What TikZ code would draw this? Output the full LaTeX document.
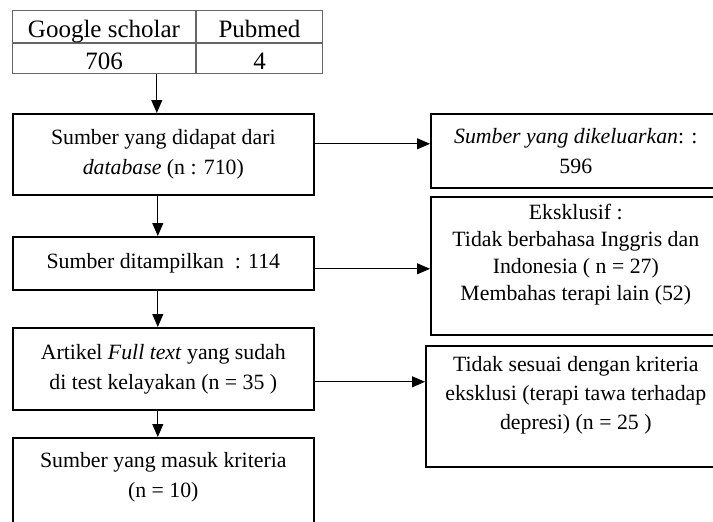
\documentclass[tikz,border=0pt]{standalone}
\usepackage{fontspec}
\setmainfont{Liberation Serif}
\usetikzlibrary{arrows.meta}
\tikzset{
  cell/.style={draw=black!60, line width=1pt, inner sep=0pt, anchor=north west, text height=21pt, text depth=0pt, font=\fontsize{25}{30}\selectfont},
  stage/.style={draw, line width=1.6pt, inner sep=0pt, anchor=north west, align=center, minimum width=301pt, font=\fontsize{21.8}{30}\selectfont},
  side/.style={stage, minimum width=290pt},
  flow/.style={-{Triangle[length=13pt,width=11pt]}, line width=0.9pt}
}
\begin{document}
\begin{tikzpicture}[x=1pt,y=-1pt]
\fill[white] (0,0) rectangle (713,522);
\clip (0,0) rectangle (713,522);
\node[cell, minimum width=183pt, minimum height=32pt] (gs) at (12,10) {Google scholar};
\node[cell, minimum width=126pt, minimum height=32pt] (pm) at (gs.north east) {Pubmed};
\node[cell, minimum width=183pt, minimum height=30pt] (n706) at (gs.south west) {706};
\node[cell, minimum width=126pt, minimum height=30pt] (n4) at (pm.south west) {4};
\node[stage, minimum height=81pt] (box1) at (12,113) {Sumber yang didapat dari\\ \textit{database} (n : 710)};
\node[stage, minimum height=53pt] (box2) at (12,236) {Sumber ditampilkan\ \ : 114};
\node[stage, minimum height=82pt] (box3) at (12,327) {Artikel \textit{Full text} yang sudah\\ di test kelayakan (n = 35 )};
\node[stage, inner ysep=15pt, text depth=70pt] (box4) at (12,437) {Sumber yang masuk kriteria\\ (n = 10)};
\node[side, minimum height=74pt] (side1) at (430,113) {\textit{Sumber yang dikeluarkan}: :\\ 596};
\node[side, minimum height=138pt, text depth=27pt, font=\fontsize{21.8}{27}\selectfont] (side2) at (430,196) {Eksklusif :\\ Tidak berbahasa Inggris dan\\ Indonesia ( n = 27)\\ Membahas terapi lain (52)};
\node[side, minimum width=300pt, minimum height=121pt, text depth=27pt, font=\fontsize{21.8}{29}\selectfont] (side3) at (425,345) {Tidak sesuai dengan kriteria\\ eksklusi (terapi tawa terhadap\\ depresi) (n = 25 )};
\draw[flow] ([xshift=-6.5pt]box1.north |- n706.south) -- ([xshift=-6.5pt]box1.north);
\draw[flow] ([xshift=-5.5pt]box1.south) -- ([xshift=-5.5pt]box1.south |- box2.north);
\draw[flow] ([xshift=-5.5pt]box2.south) -- ([xshift=-5.5pt]box2.south |- box3.north);
\draw[flow] ([xshift=-5.5pt]box3.south) -- ([xshift=-5.5pt]box3.south |- box4.north);
\draw[flow] ([yshift=10.5pt]box1.east) -- ([yshift=10.5pt]box1.east -| side1.west);
\draw[flow] ([yshift=-5.5pt]box2.east) -- ([yshift=-5.5pt]box2.east -| side2.west);
\draw[flow] ([yshift=-13pt]box3.east) -- ([yshift=-13pt]box3.east -| side3.west);
\end{tikzpicture}
\end{document}
